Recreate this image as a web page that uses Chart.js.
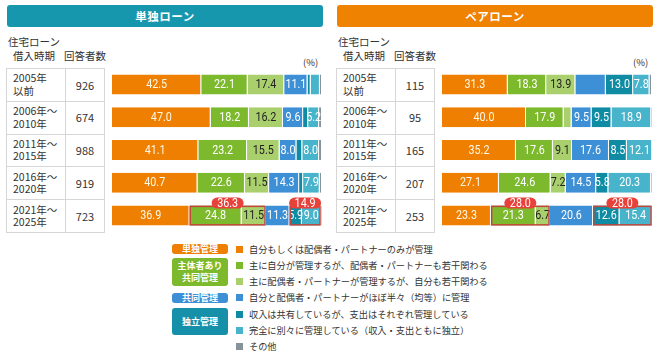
<!DOCTYPE html>
<html lang="ja">
<head>
<meta charset="utf-8">
<script src="https://cdn.jsdelivr.net/npm/chart.js@4/dist/chart.umd.min.js"></script>
<style>
  html,body{margin:0;padding:0;background:#fff;}
  body{width:660px;height:358px;position:relative;overflow:hidden;
    font-family:"Noto Sans CJK JP","Noto Sans",sans-serif;color:#333;}
  .abs{position:absolute;}
  .banner{top:5px;height:22px;width:316px;border-radius:3px;color:#fff;font-weight:bold;
    font-size:11.5px;line-height:22px;text-align:center;letter-spacing:.5px;}
  .hdr{font-size:10.5px;line-height:14px;color:#333;}
  .pct{font-size:9.5px;color:#333;}
  table.tbl{border-collapse:collapse;font-size:10.5px;line-height:12.5px;}
  table.tbl td{border:1px solid #d6d6d6;height:31.8px;padding:0;}
  table.tbl td.per{width:52px;padding-left:6px;}
  table.tbl td.num{width:38px;text-align:center;font-size:11px;}
  .badge{left:172px;width:56px;color:#fff;font-weight:bold;font-size:9px;border-radius:3px;
    text-align:center;display:flex;align-items:center;justify-content:center;line-height:12px;}
  .sw{left:236px;width:7px;height:7px;}
  .lt{left:249px;font-size:9.2px;line-height:10px;color:#333;white-space:nowrap;}
</style>
</head>
<body>
<div class="abs banner" style="left:7px;background:#1797ae;">単独ローン</div>
<div class="abs banner" style="left:337px;background:#ef8200;">ペアローン</div>

<div id="panel-single"></div>
<div id="panel-pair"></div>
<div id="legend"></div>

<script>
'use strict';

/* ── categories ── */
const periods=[['2005年','以前'],['2006年～','2010年'],['2011年～','2015年'],['2016年～','2020年'],['2021年～','2025年']];
const singleCounts=[926,674,988,919,723];
const pairCounts=[115,95,165,207,253];

/* ── legend ── */
const seriesNames=[
  '自分もしくは配偶者・パートナーのみが管理',
  '主に自分が管理するが、配偶者・パートナーも若干関わる',
  '主に配偶者・パートナーが管理するが、自分も若干関わる',
  '自分と配偶者・パートナーがほぼ半々（均等）に管理',
  '収入は共有しているが、支出はそれぞれ管理している',
  '完全に別々に管理している（収入・支出ともに独立）',
  'その他'
];
const seriesColors=['#ee7f00','#7cb92c','#aad06e','#3d8fd6','#0f8ba3','#48b4cc','#87939b'];
const labelColors=['#fff8e6','#ffffff','#222222','#ffffff','#ffffff','#ffffff','#ffffff'];

/* ── 単独ローン (%) ── */
const singleSelf=[42.5,47.0,41.1,40.7,36.9];
const singleMainSelf=[22.1,18.2,23.2,22.6,24.8];
const singleMainPartner=[17.4,16.2,15.5,11.5,11.5];
const singleHalf=[11.1,9.6,8.0,14.3,11.3];
const singleShareIncome=[1.5,2.4,2.8,1.9,5.9];
const singleSeparate=[4.4,5.2,8.0,7.9,9.0];
const singleOther=[1.0,1.4,1.4,1.1,0.6];

/* ── ペアローン (%) ── */
const pairSelf=[31.3,40.0,35.2,27.1,23.3];
const pairMainSelf=[18.3,17.9,17.6,24.6,21.3];
const pairMainPartner=[13.9,3.8,9.1,7.2,6.7];
const pairHalf=[14.5,9.5,17.6,14.5,20.6];
const pairShareIncome=[13.0,9.5,8.5,5.8,12.6];
const pairSeparate=[7.8,18.9,12.1,20.3,15.4];
const pairOther=[1.2,0.4,0,0.5,0];

// segments shown without a number in the original
const singleHidden=[];
const pairHidden=['0-3'];

// highlighted groups: [row, first series, last series]
const singleGroups=[[4,1,2],[4,4,5]];
const pairGroups=[[4,1,2],[4,4,5]];

/* ── table + headers ── */
function buildPanel(el,left,counts){
  let rows=periods.map((p,i)=>`<tr><td class="per">${p[0]}<br>${p[1]}</td><td class="num">${counts[i]}</td></tr>`).join('');
  el.innerHTML=`
    <div class="abs hdr" style="left:${left+6}px;top:35px;width:56px;text-align:center;">住宅ローン<br>借入時期</div>
    <div class="abs hdr" style="left:${left+63}px;top:49px;width:44px;text-align:center;">回答者数</div>
    <div class="abs pct" style="left:${left+303}px;top:55px;">(%)</div>
    <table class="abs tbl" style="left:${left+6}px;top:68px;">${rows}</table>
    <canvas class="abs" width="210" height="164" style="left:${left+112}px;top:68px;"></canvas>`;
  return el.querySelector('canvas');
}

// narrow numerals: Roboto squeezed horizontally
function narrowText(ctx,txt,x,y){
  ctx.save();
  ctx.translate(x,y);ctx.scale(0.86,1);
  ctx.fillText(txt,0,0);
  ctx.restore();
}

const segLabels={
  id:'segLabels',
  afterDatasetsDraw(chart){
    const {ctx}=chart;
    const hidden=chart.options.plugins.segLabels.hidden;
    ctx.save();
    ctx.font='12.5px Roboto,sans-serif';
    ctx.textAlign='center';ctx.textBaseline='middle';
    chart.data.datasets.forEach((ds,i)=>{
      chart.getDatasetMeta(i).data.forEach((bar,j)=>{
        const v=ds.data[j];
        if(v<5||hidden.includes(j+'-'+i))return;
        ctx.fillStyle=labelColors[i];
        narrowText(ctx,v.toFixed(1),(bar.x+bar.base)/2,bar.y+0.5);
      });
    });
    ctx.restore();
  }
};

const groupMarks={
  id:'groupMarks',
  afterDraw(chart){
    const {ctx}=chart;
    const groups=chart.options.plugins.groupMarks.groups;
    ctx.save();
    groups.forEach(([row,a,b])=>{
      const first=chart.getDatasetMeta(a).data[row];
      const last=chart.getDatasetMeta(b).data[row];
      const x0=first.base,x1=last.x,top=first.y-first.height/2,h=first.height;
      ctx.strokeStyle='#c0463c';ctx.lineWidth=1.5;
      ctx.strokeRect(x0+0.75,top+0.75,x1-x0-1.5,h-1.5);
      let sum=0;for(let k=a;k<=b;k++)sum+=chart.data.datasets[k].data[row];
      const cx=(x0+x1)/2,cy=top-2.5,w=32,ph=11;
      ctx.fillStyle='#e8413a';
      ctx.beginPath();ctx.roundRect(cx-w/2,cy-ph/2,w,ph,5.5);ctx.fill();
      ctx.fillStyle='#fff';
      ctx.font='12.5px Roboto,sans-serif';
      ctx.textAlign='center';ctx.textBaseline='middle';
      narrowText(ctx,sum.toFixed(1),cx,cy+0.5);
    });
    ctx.restore();
  }
};

function drawChart(canvas,series,hidden,groups){
  new Chart(canvas,{
    type:'bar',
    data:{
      labels:periods.map(p=>p.join('')),
      datasets:series.map((d,i)=>({
        label:seriesNames[i],data:d,backgroundColor:seriesColors[i],
        borderColor:'#ffffff',borderWidth:{left:0,top:0,bottom:0,right:1},borderSkipped:false,
        barPercentage:0.61,categoryPercentage:1
      }))
    },
    options:{
      indexAxis:'y',responsive:false,animation:false,
      layout:{padding:0},
      plugins:{legend:{display:false},tooltip:{enabled:false},
        segLabels:{hidden},groupMarks:{groups}},
      scales:{
        x:{stacked:true,min:0,max:100,display:false},
        y:{stacked:true,display:false}
      }
    },
    plugins:[segLabels,groupMarks]
  });
}

drawChart(buildPanel(document.getElementById('panel-single'),0,singleCounts),
  [singleSelf,singleMainSelf,singleMainPartner,singleHalf,singleShareIncome,singleSeparate,singleOther],
  singleHidden,singleGroups);
drawChart(buildPanel(document.getElementById('panel-pair'),330,pairCounts),
  [pairSelf,pairMainSelf,pairMainPartner,pairHalf,pairShareIncome,pairSeparate,pairOther],
  pairHidden,pairGroups);

/* ── legend ── */
const legendY=[249,265,281,297,314,330,346];
const badges=[
  {t:'単独管理',c:'#ee7f00',y:244,h:10},
  {t:'主体者あり<br>共同管理',c:'#7cb92c',y:258,h:28},
  {t:'共同管理',c:'#3d8fd6',y:293,h:10},
  {t:'独立管理',c:'#1590a8',y:308,h:27}
];
document.getElementById('legend').innerHTML=
  badges.map(b=>`<div class="abs badge" style="top:${b.y}px;height:${b.h}px;background:${b.c};">${b.t}</div>`).join('')+
  seriesNames.map((n,i)=>`
    <div class="abs sw" style="top:${legendY[i]-3}px;background:${seriesColors[i]};"></div>
    <div class="abs lt" style="top:${legendY[i]-5}px;">${n}</div>`).join('');
</script>
</body>
</html>
